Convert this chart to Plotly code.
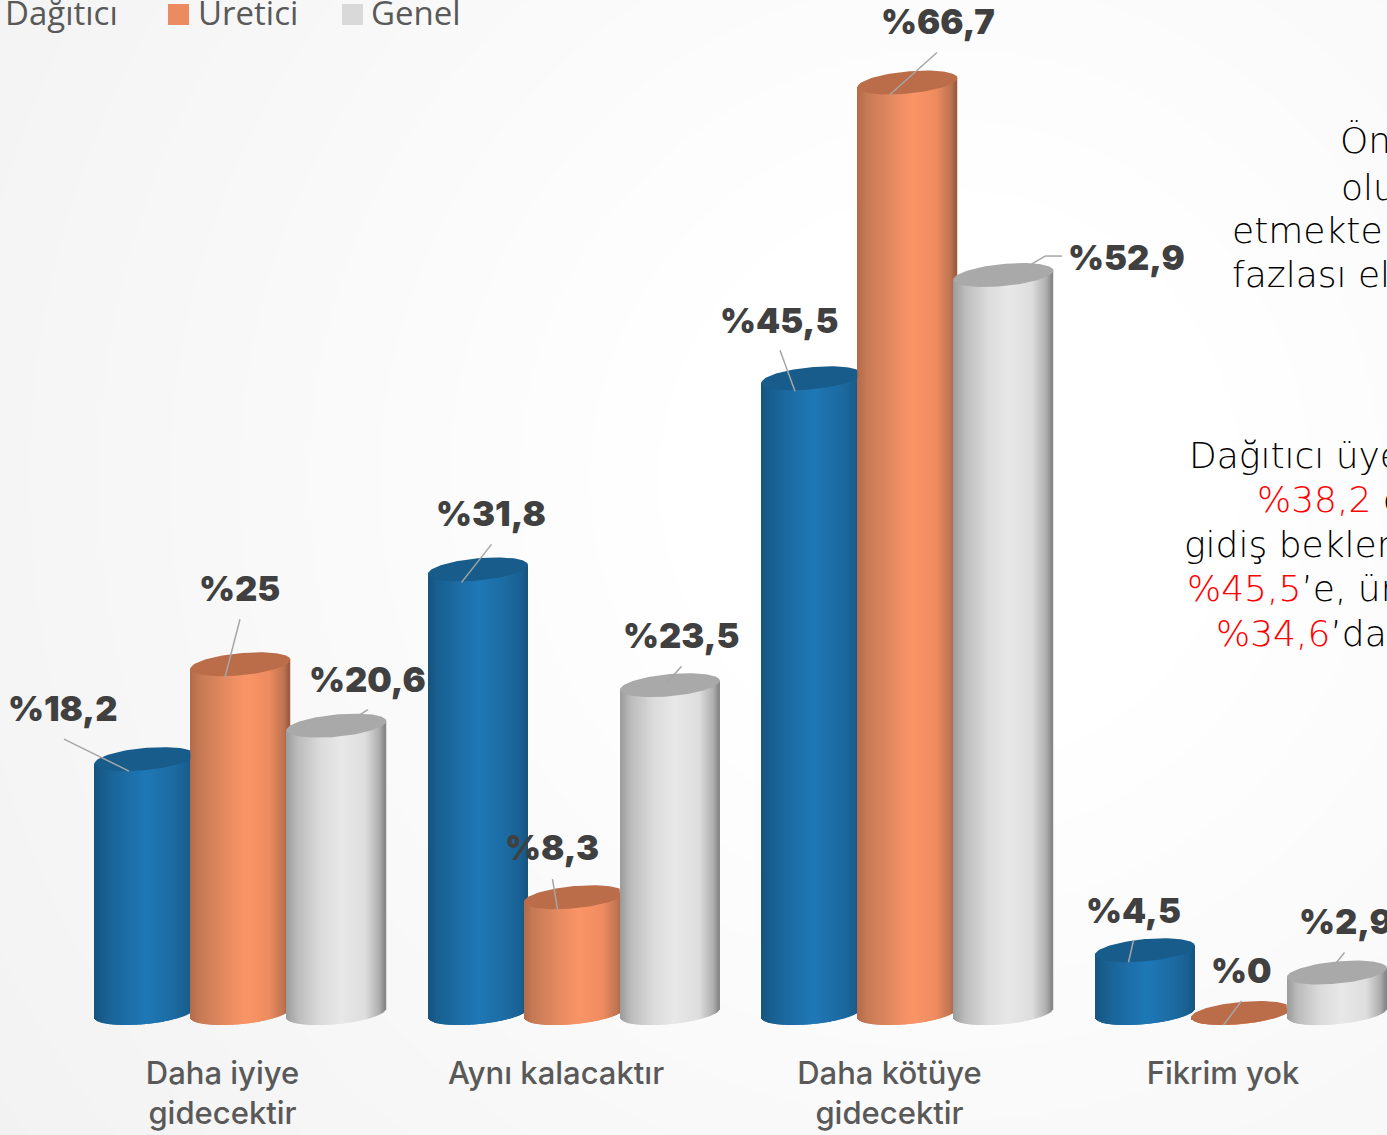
import numpy as np
import plotly.graph_objects as go

# ---- data ----
categories = ["Daha iyiye<br>gidecektir", "Aynı kalacaktır", "Daha kötüye<br>gidecektir", "Fikrim yok"]
series_names = ["Dağıtıcı", "Üretici", "Genel"]
dagitici = [18.2, 31.8, 45.5, 4.5]
uretici = [25, 8.3, 66.7, 0]
genel = [20.6, 23.5, 52.9, 2.9]
value_labels = [
    ["%18,2", "%31,8", "%45,5", "%4,5"],
    ["%25", "%8,3", "%66,7", "%0"],
    ["%20,6", "%23,5", "%52,9", "%2,9"],
]
series_values = [dagitici, uretici, genel]

# ---- style / geometry ----
W, H = 1387, 1135
PX_PER_UNIT = 13.95      # y pixels per percentage point
PX_PER_CAT = 333.5       # x pixels per category
ZERO_PX = 1013
CAT0_PX = 240
TICK_SHIFT_PX = -17.5
AXIS_BOTTOM_PX = 1052
A = 50.0    # cylinder half width, px
B = 11.1    # ellipse half height, px
S = 4.5     # ellipse tilt, px
SPACING = 96.0
N = 100

stops = [
    ([-1, -0.8, -0.3, 0.05, 0.6, 0.9, 1],
     ["#17537c", "#195f90", "#1d70aa", "#1f78b6", "#1c6ba2", "#195f90", "#175480"]),
    ([-1, -0.8, -0.3, 0.12, 0.6, 0.9, 1],
     ["#b56b49", "#c67a55", "#e58a61", "#fb9567", "#ee8c60", "#bd7351", "#9a5a3e"]),
    ([-1, -0.75, -0.3, 0.1, 0.6, 0.88, 1],
     ["#9c9c9c", "#bdbdbd", "#dcdcdc", "#e8e8e8", "#dedede", "#b0b0b0", "#858585"]),
]
cap_colors = ["#175c8a", "#bb6c49", "#a9a9a9"]

label_offsets = [  # label centre relative to cap centre, px (right, up)
    [(-81, 51), (13, 56), (-32, 58), (-11, 40)],
    [(-1, 76), (-22, 50), (31, 61), (1, 43)],
    [(31, 46), (12, 50), (123, 18), (9, 51)],
]
leader_offsets = [  # polyline relative to cap centre, px (right, up)
    [[(-80, 20), (-15, -12)], [(14, 25), (-16, -13)], [(-31, 28), (-16, -13)], [(-11, 10), (-16, -12)]],
    [[(0, 45), (-15, -13)], [(-21, 18), (-16, -12)], [(30, 30), (-17, -12)], [(1, 12), (-17, -12)]],
    [[(32, 16), (24, 11)], [(12, 19), (-2, 3)], [(59, 19), (42, 19), (27, 10)], [(8, 20), (0, 10)]],
]

text_lines = [
    (1338, 141, "Ön"),
    (1339, 187, "olu"),
    (1230, 230, "etmekte"),
    (1230, 274, "fazlası el"),
    (1187, 455, "Dağıtıcı üye"),
    (1255, 499, '<span style="color:#ff0000">%38,2</span> d'),
    (1182, 544, "gidiş bekler"),
    (1185, 589, '<span style="color:#ff0000">%45,5</span>’e, üre'),
    (1214, 633, '<span style="color:#ff0000">%34,6</span>’dan'),
]
legend_x = [(-25, 3), (168, 196), (342, 369)]
legend_colors = ["#1f77b4", "#ed8b60", "#d9d9d9"]


def hex2rgb(h):
    return np.array([int(h[i:i + 2], 16) for i in (1, 3, 5)], float)


def ramp(u, pos, cols):
    arr = np.array([hex2rgb(c) for c in cols])
    return ["rgb(%d,%d,%d)" % tuple(np.interp(v, pos, arr[:, k]) for k in range(3)) for v in u]


fig = go.Figure()
xpx = lambda p: p / PX_PER_CAT   # px distance -> category units
ypx = lambda p: p / PX_PER_UNIT  # px distance -> value units

edges = np.linspace(-1, 1, N + 1)
u = (edges[:-1] + edges[1:]) / 2
lower = S * u - B * np.sqrt(1 - u ** 2)
centre_edge = S * u
slice_w = 2 * A / N

# bodies
for s, (vals, name) in enumerate(zip(series_values, series_names)):
    colors = ramp(u, *stops[s])
    for c, v in enumerate(vals):
        cx = c + xpx((s - 1) * SPACING + 0.4)
        base = ypx(lower)
        top = v + ypx(centre_edge)
        fig.add_trace(go.Bar(
            x=cx + xpx(u * (A - 0.4)), y=top - base, base=base,
            width=xpx(slice_w * 1.5),
            marker=dict(color=colors, line=dict(width=0)),
            name=name, showlegend=False, hoverinfo="skip",
        ))

# caps
t = np.linspace(0, 2 * np.pi, 121)
for s, vals in enumerate(series_values):
    for c, v in enumerate(vals):
        cx_px = (s - 1) * SPACING + 0.4
        dx = A * np.cos(t)
        dy = S * np.cos(t) + B * np.sin(t)
        px = cx_px + dx
        if s < 2 and series_values[s + 1][c] > v:
            px = np.minimum(px, cx_px + SPACING - A)
        fig.add_trace(go.Scatter(
            x=c + xpx(px), y=v + ypx(dy), mode="lines", fill="toself",
            fillcolor=cap_colors[s], line=dict(width=0, color=cap_colors[s]),
            showlegend=False, hoverinfo="skip",
        ))

annotations, shapes = [], []

# background: soft radial glow
cxb, cyb = 950, 480
levels = list(range(242, 256))
for i, lv in enumerate(levels):
    r = 1200 - i * 70
    shapes.append(dict(type="circle", xref="paper", yref="paper", layer="below",
                       x0=(cxb - r) / W, x1=(cxb + r) / W,
                       y0=1 - (cyb + r) / H, y1=1 - (cyb - r) / H,
                       fillcolor="rgb(%d,%d,%d)" % (lv, lv, lv), line=dict(width=0)))

# labels and leader lines
for s, vals in enumerate(series_values):
    for c, v in enumerate(vals):
        xc = c + xpx((s - 1) * SPACING)
        ox, oy = label_offsets[s][c]
        annotations.append(dict(x=xc, y=v, xref="x", yref="y", xshift=ox, yshift=oy,
                                text=value_labels[s][c], showarrow=False,
                                xanchor="center", yanchor="middle",
                                font=dict(family="Inter", size=34.5, color="#404040", weight=900)))
        pts = leader_offsets[s][c]
        for (x0, y0), (x1, y1) in zip(pts[:-1], pts[1:]):
            shapes.append(dict(type="line", xref="x", yref="y",
                               xsizemode="pixel", ysizemode="pixel",
                               xanchor=xc, yanchor=v, x0=x0, x1=x1, y0=y0, y1=y1,
                               line=dict(color="#a6a6a6", width=1.5)))

# side text (runs off the right edge in the source)
for x, y, txt in text_lines:
    annotations.append(dict(x=x / W, y=1 - y / H, xref="paper", yref="paper",
                            text=txt, showarrow=False, xanchor="left", yanchor="middle",
                            align="left",
                            font=dict(family="DejaVu Sans", size=36, color="#000000", weight=200)))

# legend row, cut by the top edge
for (sw, tx), name, col in zip(legend_x, series_names, legend_colors):
    shapes.append(dict(type="rect", xref="paper", yref="paper",
                       x0=sw / W, x1=(sw + 21) / W, y0=1 - 25 / H, y1=1 - 4 / H,
                       fillcolor=col, line=dict(width=0)))
    annotations.append(dict(x=tx / W, y=1 - 12 / H, xref="paper", yref="paper",
                            text=name, showarrow=False, xanchor="left", yanchor="middle",
                            font=dict(family="Open Sans", size=33, color="#595959")))

fig.update_layout(
    width=W, height=H, margin=dict(l=0, r=0, t=0, b=0, autoexpand=False),
    paper_bgcolor="#f2f2f2", plot_bgcolor="rgba(0,0,0,0)",
    barmode="overlay", showlegend=False,
    annotations=annotations, shapes=shapes,
    xaxis=dict(range=[-CAT0_PX / PX_PER_CAT, (W - CAT0_PX) / PX_PER_CAT],
               tickmode="array",
               tickvals=[c + xpx(TICK_SHIFT_PX) for c in range(len(categories))],
               ticktext=categories,
               ticks="", showgrid=False, zeroline=False, showline=False,
               automargin=False,
               tickfont=dict(family="Inter", size=31, color="#595959", weight=500)),
    yaxis=dict(domain=[1 - AXIS_BOTTOM_PX / H, 1],
               range=[(ZERO_PX - AXIS_BOTTOM_PX) / PX_PER_UNIT, ZERO_PX / PX_PER_UNIT],
               showticklabels=False, ticks="", showgrid=False, zeroline=False, showline=False,
               automargin=False),
)

fig.write_html("out.html", config={"displayModeBar": False},
               post_script="document.body.style.margin='0';document.body.style.overflow='hidden';")
